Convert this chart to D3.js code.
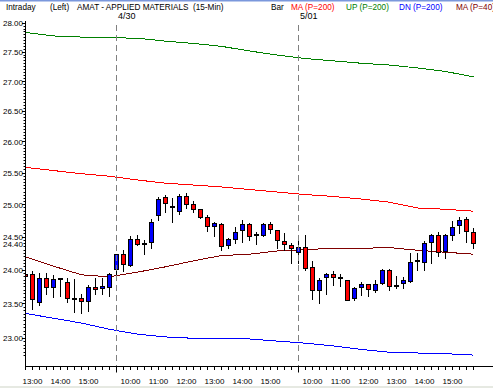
<!DOCTYPE html>
<html>
<head>
<meta charset="utf-8">
<script src="https://cdnjs.cloudflare.com/ajax/libs/d3/7.8.5/d3.min.js"></script>
<style>
	body { margin: 0; background: #fff; }
	svg { display: block; font-family: "Liberation Sans", Arial, sans-serif; }
</style>
</head>
<body>
<svg id="chart" width="493" height="388"></svg>
<script>

// 15-min bars, 4/29 afternoon through 5/01
const barTimes = [
	"4/29 12:45", "4/29 13:00", "4/29 13:15", "4/29 13:30", "4/29 13:45", "4/29 14:00", "4/29 14:15",
	"4/29 14:30", "4/29 14:45", "4/29 15:00", "4/29 15:15", "4/29 15:30", "4/29 15:45",
	"4/30 09:30", "4/30 09:45", "4/30 10:00", "4/30 10:15", "4/30 10:30", "4/30 10:45", "4/30 11:00",
	"4/30 11:15", "4/30 11:30", "4/30 11:45", "4/30 12:00", "4/30 12:15", "4/30 12:30", "4/30 12:45",
	"4/30 13:00", "4/30 13:15", "4/30 13:30", "4/30 13:45", "4/30 14:00", "4/30 14:15", "4/30 14:30",
	"4/30 14:45", "4/30 15:00", "4/30 15:15", "4/30 15:30", "4/30 15:45",
	"5/01 09:30", "5/01 09:45", "5/01 10:00", "5/01 10:15", "5/01 10:30", "5/01 10:45", "5/01 11:00",
	"5/01 11:15", "5/01 11:30", "5/01 11:45", "5/01 12:00", "5/01 12:15", "5/01 12:30", "5/01 12:45",
	"5/01 13:00", "5/01 13:15", "5/01 13:30", "5/01 13:45", "5/01 14:00", "5/01 14:15", "5/01 14:30",
	"5/01 14:45", "5/01 15:00", "5/01 15:15", "5/01 15:30", "5/01 15:45"
];

const opens = [
	23.94, 23.94, 23.53, 23.88, 23.74, 23.87, 23.82, 23.58, 23.58, 23.54, 23.74, 23.73, 23.73,
	24.01, 24.23, 24.08, 24.47, 24.41, 24.41, 24.83, 25.11, 24.97, 24.89, 25.13, 25.01, 24.93, 24.80,
	24.66, 24.70, 24.37, 24.46, 24.61, 24.70, 24.54, 24.52, 24.70, 24.60, 24.44, 24.37,
	24.27, 24.34, 24.04, 23.69, 23.88, 23.93, 23.89, 23.85, 23.57, 23.74, 23.78, 23.70, 23.80,
	24.00, 23.77, 23.79, 23.84, 24.14, 24.12, 24.41, 24.53, 24.27, 24.52, 24.67, 24.77, 24.57
];
const highs = [
	23.99, 23.99, 23.96, 23.95, 23.93, 23.88, 23.88, 23.87, 23.64, 23.78, 23.89, 23.89, 23.96,
	24.24, 24.30, 24.52, 24.54, 24.46, 24.78, 25.12, 25.15, 25.11, 25.17, 25.18, 25.06, 24.93, 24.84,
	24.74, 24.71, 24.48, 24.66, 24.77, 24.71, 24.58, 24.71, 24.74, 24.61, 24.56, 24.41,
	24.51, 24.53, 24.13, 23.89, 23.96, 23.98, 23.94, 23.86, 23.75, 23.83, 23.78, 23.86, 24.01,
	24.01, 23.91, 23.90, 24.26, 24.26, 24.44, 24.55, 24.58, 24.55, 24.75, 24.81, 24.81, 24.64
];
const lows = [
	23.85, 23.42, 23.48, 23.65, 23.60, 23.62, 23.53, 23.38, 23.37, 23.40, 23.64, 23.64, 23.61,
	23.93, 23.98, 24.06, 24.38, 24.25, 24.34, 24.76, 24.89, 24.73, 24.86, 24.95, 24.88, 24.80, 24.60,
	24.52, 24.30, 24.33, 24.41, 24.43, 24.45, 24.39, 24.51, 24.56, 24.33, 24.30, 24.10,
	24.10, 24.00, 23.57, 23.51, 23.65, 23.78, 23.77, 23.55, 23.56, 23.63, 23.61, 23.68, 23.79,
	23.70, 23.73, 23.73, 23.82, 24.00, 24.00, 24.10, 24.21, 24.19, 24.46, 24.56, 24.43, 24.34
];
const closes = [
	23.91, 23.57, 23.88, 23.74, 23.86, 23.85, 23.59, 23.56, 23.54, 23.74, 23.71, 23.76, 23.93,
	24.23, 24.08, 24.47, 24.39, 24.40, 24.72, 25.08, 25.01, 24.96, 25.13, 25.01, 24.93, 24.81, 24.66,
	24.71, 24.37, 24.46, 24.57, 24.70, 24.52, 24.52, 24.69, 24.62, 24.45, 24.39, 24.33,
	24.34, 24.03, 23.69, 23.84, 23.93, 23.89, 23.87, 23.56, 23.72, 23.78, 23.71, 23.79, 24.00,
	23.76, 23.76, 23.84, 24.12, 24.12, 24.41, 24.52, 24.27, 24.52, 24.65, 24.75, 24.58, 24.40
];

// indicator lines, read every hour-ish
const lineBars = [
	"4/29 12:45", "4/29 13:45", "4/29 14:45", "4/29 15:45", "4/30 10:15", "4/30 11:15", "4/30 12:15",
	"4/30 13:15", "4/30 14:15", "4/30 15:15", "5/01 09:45", "5/01 10:45", "5/01 11:45", "5/01 12:45",
	"5/01 13:45", "5/01 14:45", "5/01 15:45"
];
const ma200 = [25.59, 25.54, 25.49, 25.45, 25.39, 25.34, 25.31, 25.28, 25.24, 25.20, 25.16, 25.13, 25.09, 25.04, 24.95, 24.93, 24.90];
const up200 = [27.84, 27.78, 27.76, 27.75, 27.74, 27.69, 27.65, 27.60, 27.52, 27.45, 27.39, 27.35, 27.31, 27.28, 27.23, 27.17, 27.08];
const dn200 = [23.36, 23.29, 23.22, 23.13, 23.06, 23.02, 23.00, 22.99, 22.99, 22.96, 22.93, 22.89, 22.84, 22.80, 22.79, 22.78, 22.76];
const ma40 = [24.20, 24.06, 23.93, 23.90, 23.97, 24.05, 24.14, 24.22, 24.24, 24.29, 24.31, 24.33, 24.33, 24.34, 24.30, 24.27, 24.24];

const priceTicks = [23.0, 23.5, 24.0, 24.5, 25.0, 25.5, 26.0, 26.5, 27.0, 27.5, 28.0];
const lastPrice = 24.40;

const hourTicks = [
	"4/29 13:00", "4/29 14:00", "4/29 15:00",
	"4/30 10:00", "4/30 11:00", "4/30 12:00", "4/30 13:00", "4/30 14:00", "4/30 15:00",
	"5/01 10:00", "5/01 11:00", "5/01 12:00", "5/01 13:00", "5/01 14:00", "5/01 15:00"
];
const sessionStarts = ["4/30 09:30", "5/01 09:30"];
const sessionLabels = ["4/30", "5/01"];

const legend = [
	{ text: "Intraday", x: 6, color: "#000" },
	{ text: "(Left)", x: 50, color: "#000" },
	{ text: "AMAT - APPLIED MATERIALS\u00a0\u00a0(15-Min)", x: 77, color: "#000" },
	{ text: "Bar", x: 271, color: "#000" },
	{ text: "MA (P=200)", x: 291, color: "#ff0000" },
	{ text: "UP (P=200)", x: 346, color: "#008000" },
	{ text: "DN (P=200)", x: 399, color: "#0000ff" },
	{ text: "MA (P=40)", x: 456, color: "#800000" }
];

const svg = d3.select('#chart');
const W = 493, H = 388;
const left = 25.5, plotTop = 21, axisY = 366.5;

const x = d3.scalePoint().domain(barTimes).range([25.5, 473.5]);
const y = d3.scaleLog().domain([23, 28]).range([338.3, 23.3]);
const crisp = v => Math.round(v - 0.5) + 0.5;

// frame bits
svg.append('rect').attr('x', 0).attr('y', 0).attr('width', W).attr('height', 1.5).attr('fill', '#7b98dc');
svg.append('rect').attr('x', 0).attr('y', 386).attr('width', W).attr('height', 2).attr('fill', '#e6e9e2');

// header
svg.append('g').selectAll('text')
	.data(legend)
	.enter()
	.append('text')
	.attr('x', d => d.x)
	.attr('y', 9.5)
	.attr('font-size', '8.2px')
	.attr('fill', d => d.color)
	.text(d => d.text);

svg.append('defs').append('clipPath').attr('id', 'plotclip')
	.append('rect').attr('x', 26).attr('y', plotTop).attr('width', W - 26).attr('height', axisY - plotTop);

const plot = svg.append('g').attr('clip-path', 'url(#plotclip)');

// session separators
svg.append('g').selectAll('line')
	.data(sessionStarts)
	.enter()
	.append('line')
	.attr('x1', d => x(d)).attr('x2', d => x(d))
	.attr('y1', 25).attr('y2', axisY)
	.attr('stroke', '#808080')
	.attr('stroke-dasharray', '6,4');

svg.append('g').selectAll('text')
	.data(sessionLabels)
	.enter()
	.append('text')
	.attr('x', (d, i) => x(sessionStarts[i]) + 1.5)
	.attr('y', 18.5)
	.attr('font-size', '9px')
	.text(d => d);

// indicator lines
const lineGen = d3.line()
	.x(d => x(d.key))
	.y(d => y(d.v));

const series = [
	{ values: ma200, color: '#ff0000' },
	{ values: up200, color: '#008000' },
	{ values: dn200, color: '#0000ff' },
	{ values: ma40, color: '#800000' }
];

plot.selectAll('.ind')
	.data(series)
	.enter()
	.append('path')
	.classed('ind', true)
	.attr('d', s => lineGen(s.values.map((v, i) => ({ key: lineBars[i], v: v }))))
	.attr('fill', 'none')
	.attr('stroke', s => s.color)
	.attr('stroke-width', 1)
	.attr('shape-rendering', 'crispEdges');

// candles
const bars = barTimes.map((t, i) => ({ t: t, o: opens[i], h: highs[i], l: lows[i], c: closes[i] }));

const candle = plot.selectAll('.candle')
	.data(bars)
	.enter()
	.append('g')
	.classed('candle', true);

candle.append('line')
	.attr('x1', d => x(d.t)).attr('x2', d => x(d.t))
	.attr('y1', d => Math.round(y(d.h))).attr('y2', d => Math.round(y(d.l)) + 1)
	.attr('stroke', '#000')
	.attr('shape-rendering', 'crispEdges');

candle.append('rect')
	.attr('x', d => x(d.t) - 2)
	.attr('y', d => crisp(y(Math.max(d.o, d.c))))
	.attr('width', 4)
	.attr('height', d => Math.max(1, Math.round(y(Math.min(d.o, d.c)) - y(Math.max(d.o, d.c)))))
	.attr('fill', d => d.c >= d.o ? '#0000ff' : '#ff0000')
	.attr('stroke', '#000')
	.attr('shape-rendering', 'crispEdges');

// price axis
const yAxis = svg.append('g');
yAxis.append('line')
	.attr('x1', left).attr('x2', left).attr('y1', plotTop).attr('y2', axisY + 0.5)
	.attr('stroke', '#000');

const minor = d3.range(22.75, 28.01, 0.05);
yAxis.selectAll('.minor')
	.data(minor)
	.enter()
	.append('line')
	.attr('x1', left - 2).attr('x2', left)
	.attr('y1', d => crisp(y(d))).attr('y2', d => crisp(y(d)))
	.attr('stroke', '#000')
	.filter(d => y(d) < plotTop || y(d) > axisY).remove();

yAxis.selectAll('.major')
	.data(priceTicks)
	.enter()
	.append('line')
	.attr('x1', left - 3.5).attr('x2', left)
	.attr('y1', d => crisp(y(d))).attr('y2', d => crisp(y(d)))
	.attr('stroke', '#000');

yAxis.selectAll('.plabel')
	.data(priceTicks)
	.enter()
	.append('text')
	.attr('x', 23)
	.attr('y', d => y(d) + 3)
	.attr('text-anchor', 'end')
	.attr('font-size', '8px')
	.text(d => d.toFixed(2));

yAxis.append('text')
	.attr('x', 23)
	.attr('y', y(lastPrice) + 3)
	.attr('text-anchor', 'end')
	.attr('font-size', '8px')
	.text(lastPrice.toFixed(2));

// time axis
const xAxis = svg.append('g');
xAxis.append('line')
	.attr('x1', left).attr('x2', W).attr('y1', axisY).attr('y2', axisY)
	.attr('stroke', '#000');

xAxis.selectAll('.xt')
	.data(barTimes)
	.enter()
	.append('line')
	.attr('x1', d => x(d)).attr('x2', d => x(d))
	.attr('y1', axisY)
	.attr('y2', d => axisY + (sessionStarts.includes(d) ? 6 : 3.5))
	.attr('stroke', '#000');

xAxis.selectAll('.xl')
	.data(hourTicks)
	.enter()
	.append('text')
	.attr('x', d => x(d))
	.attr('y', 384)
	.attr('text-anchor', 'middle')
	.attr('font-size', '8px')
	.text(d => d.slice(-5));

</script>
</body>
</html>
